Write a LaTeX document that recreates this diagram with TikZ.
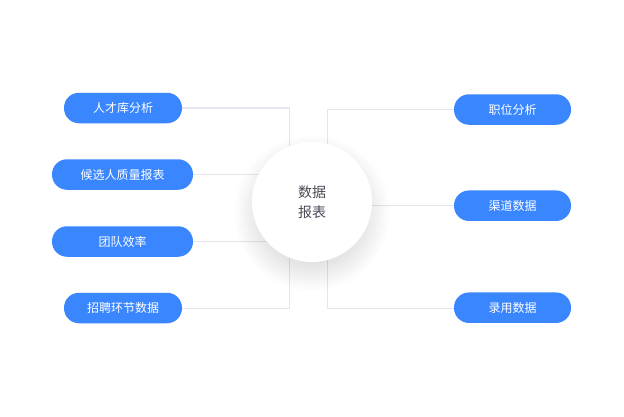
\documentclass[tikz,border=0pt]{standalone}
\usepackage{fontspec}
\setmainfont{Noto Sans CJK SC}
\definecolor{pillblue}{HTML}{3A86FF}
\definecolor{linegray}{HTML}{E4E5EE}
\definecolor{titlegray}{HTML}{4A4A55}
\definecolor{shadowgray}{HTML}{50506A}
\tikzset{
  pill/.style={fill=pillblue, draw=none, rounded corners=15pt, minimum height=30.5pt,
    inner sep=0pt, text=white, font=\fontsize{12}{14}\selectfont},
  conn/.style={draw=linegray, line width=1.2pt},
  hub/.style={circle, fill=white, draw=none, minimum size=120pt, inner sep=0pt,
    text=titlegray, font=\fontsize{14}{19.5}\selectfont, align=center}
}
\begin{document}
\begin{tikzpicture}[x=1pt,y=-1pt]
\useasboundingbox[fill=white] (0,0) rectangle (624,416);
% left pills
\node[pill, minimum width=118pt] (l1) at (123,108) {人才库分析};
\node[pill, minimum width=141pt] (l2) at (122.5,174.5) {候选人质量报表};
\node[pill, minimum width=141pt] (l3) at (122.5,241.5) {团队效率};
\node[pill, minimum width=118pt] (l4) at (123,308) {招聘环节数据};
% right pills
\node[pill, minimum width=117pt] (r1) at (512.5,109.5) {职位分析};
\node[pill, minimum width=117pt] (r2) at (512.5,205.7) {渠道数据};
\node[pill, minimum width=117pt] (r3) at (512.5,307.7) {录用数据};
% hub position
\coordinate (hc) at (312,202);
\coordinate (hs) at (312,213);
\coordinate (ltc) at (289.5,108);
\coordinate (ltd) at (289.5,180);
\coordinate (lbc) at (289.5,308.5);
\coordinate (lbu) at (289.5,230);
\coordinate (rtc) at (327.5,109.5);
\coordinate (rtd) at (327.5,180);
\coordinate (rbc) at (327.5,308.5);
\coordinate (rbu) at (327.5,230);
% connectors
\draw[conn] (l1.east) -- (ltc) -- (ltd);
\draw[conn] (l2.east) -- (l2.east -| hc);
\draw[conn] (l3.east) -- (l3.east -| hc);
\draw[conn] (l4.east |- lbc) -- (lbc) -- (lbu);
\draw[conn] (r1.west) -- (rtc) -- (rtd);
\draw[conn] (r2.west) -- (r2.west -| hc);
\draw[conn] (r3.west |- rbc) -- (rbc) -- (rbu);
% soft shadow
\foreach \r in {50,51,...,78} {
  \fill[shadowgray, opacity=0.0045] (hs) circle[radius=\r pt];
}
% hub
\node[hub] (hub) at (hc) {数据\\报表};
\end{tikzpicture}
\end{document}
